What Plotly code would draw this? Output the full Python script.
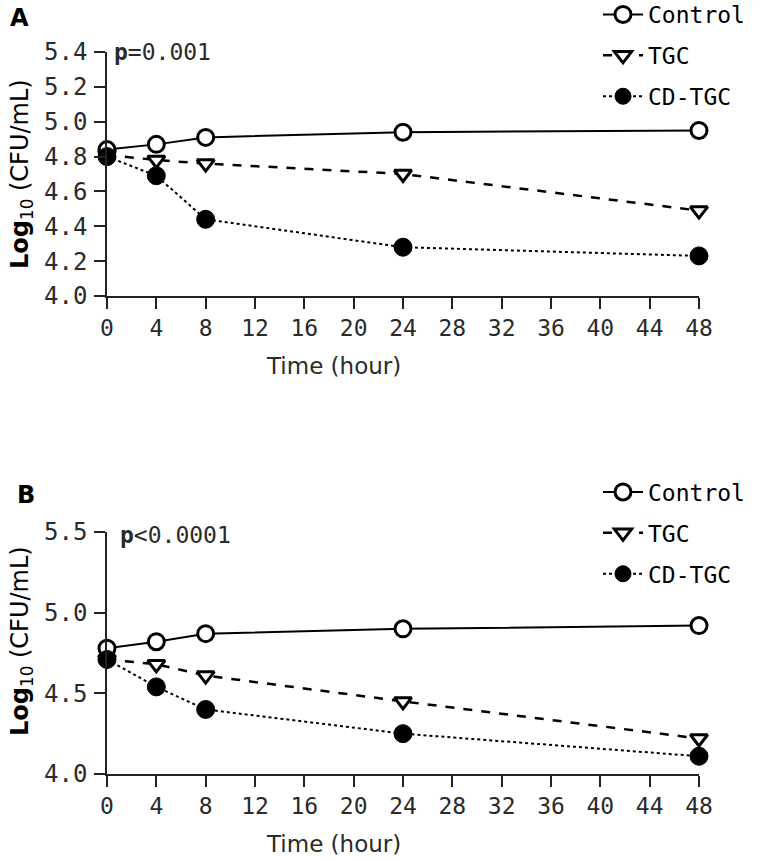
import plotly.graph_objects as go

time_h = [0, 4, 8, 24, 48]
series_names = ["Control", "TGC", "CD-TGC"]

# Panel A
a_control = [4.84, 4.87, 4.91, 4.94, 4.95]
a_tgc = [4.81, 4.78, 4.76, 4.70, 4.49]
a_cdtgc = [4.80, 4.69, 4.44, 4.28, 4.23]

# Panel B
b_control = [4.78, 4.82, 4.87, 4.90, 4.92]
b_tgc = [4.71, 4.68, 4.61, 4.45, 4.22]
b_cdtgc = [4.71, 4.54, 4.40, 4.25, 4.11]

x_ticks = list(range(0, 49, 4))
a_yticks = [4.0, 4.2, 4.4, 4.6, 4.8, 5.0, 5.2, 5.4]
b_yticks = [4.0, 4.5, 5.0, 5.5]

W, H = 760, 861
MONO = "DejaVu Sans Mono"
SANS = "DejaVu Sans"

styles = {
    "Control": dict(line=dict(color="black", width=2, dash="solid"),
                    marker=dict(symbol="circle", size=16, color="white",
                                line=dict(color="black", width=3))),
    "TGC": dict(line=dict(color="black", width=2.5, dash="dash"),
                marker=dict(symbol="triangle-down", size=15, color="white",
                            line=dict(color="black", width=3))),
    "CD-TGC": dict(line=dict(color="black", width=2, dash="dot"),
                   marker=dict(symbol="circle", size=18, color="black",
                               line=dict(color="black", width=1))),
}

fig = go.Figure()
panels = [
    ("x", "y", "legend", [a_control, a_tgc, a_cdtgc]),
    ("x2", "y2", "legend2", [b_control, b_tgc, b_cdtgc]),
]
for xa, ya, lg, data in panels:
    for name, vals in zip(series_names, data):
        st = styles[name]
        fig.add_trace(go.Scatter(
            x=time_h, y=vals, name=name, mode="lines+markers",
            line=st["line"], marker=st["marker"], xaxis=xa, yaxis=ya,
            legend=lg, legendgroup=lg + name, cliponaxis=False,
        ))

def px_x(p):
    return p / W

def px_y(p):
    return 1 - p / H

xdom = [px_x(107), px_x(699)]
axis_common = dict(showgrid=False, zeroline=False, showline=True,
                   linecolor="#222", linewidth=1.5, ticks="outside",
                   ticklen=11, tickwidth=1.5, tickcolor="#222")

legend_common = dict(xanchor="left", yanchor="top",
                     font=dict(family=MONO, size=23, color="black"),
                     traceorder="grouped", tracegroupgap=8, itemwidth=40,
                     bgcolor="rgba(0,0,0,0)")

fig.update_layout(
    width=W, height=H, margin=dict(l=0, r=0, t=0, b=0, autoexpand=False),
    plot_bgcolor="white", paper_bgcolor="white",
    xaxis=dict(domain=xdom, range=[0, 48], tickvals=x_ticks, anchor="y",
               tickfont=dict(family=MONO, size=23, color="#2a2a2a"), **axis_common),
    yaxis=dict(domain=[px_y(296), px_y(52)], range=[4.0, 5.4], tickvals=a_yticks,
               tickformat=".1f", anchor="x", ticklabelstandoff=2,
               tickfont=dict(family=MONO, size=24, color="#2a2a2a"), **axis_common),
    xaxis2=dict(domain=xdom, range=[0, 48], tickvals=x_ticks, anchor="y2",
                tickfont=dict(family=MONO, size=23, color="#2a2a2a"), **axis_common),
    yaxis2=dict(domain=[px_y(774), px_y(532)], range=[4.0, 5.5], tickvals=b_yticks,
                tickformat=".1f", anchor="x2", ticklabelstandoff=2,
                tickfont=dict(family=MONO, size=24, color="#2a2a2a"), **axis_common),
    legend=dict(x=px_x(598), y=px_y(-7), **legend_common),
    legend2=dict(x=px_x(598), y=px_y(470.5), **legend_common),
    showlegend=True,
)

ann = []
# panel letters
ann.append(dict(text="<b>A</b>", x=px_x(8), y=px_y(18), xanchor="left", yanchor="middle",
                font=dict(family=SANS, size=24, color="black")))
ann.append(dict(text="<b>B</b>", x=px_x(15), y=px_y(495), xanchor="left", yanchor="middle",
                font=dict(family=SANS, size=24, color="black")))
# p values
ann.append(dict(text="<b>p</b>=0.001", x=px_x(112), y=px_y(52), xanchor="left", yanchor="middle",
                font=dict(family=MONO, size=23, color="#2a2a2a")))
ann.append(dict(text="<b>p</b><0.0001", x=px_x(118), y=px_y(535), xanchor="left", yanchor="middle",
                font=dict(family=MONO, size=23, color="#2a2a2a")))
# axis titles
for yc, xc in [(174, 366), (641, 844)]:
    ann.append(dict(text="<b>Log</b><sub>10</sub> (CFU/mL)", x=px_x(21), y=px_y(yc),
                    xanchor="center", yanchor="middle", textangle=-90,
                    font=dict(family=SANS, size=24, color="black")))
    ann.append(dict(text="Time (hour)", x=px_x(333), y=px_y(xc), xanchor="center",
                    yanchor="middle", font=dict(family=SANS, size=23, color="#2a2a2a")))
for a in ann:
    a.update(xref="paper", yref="paper", showarrow=False)
fig.update_layout(annotations=ann)

fig.write_html("out.html")
